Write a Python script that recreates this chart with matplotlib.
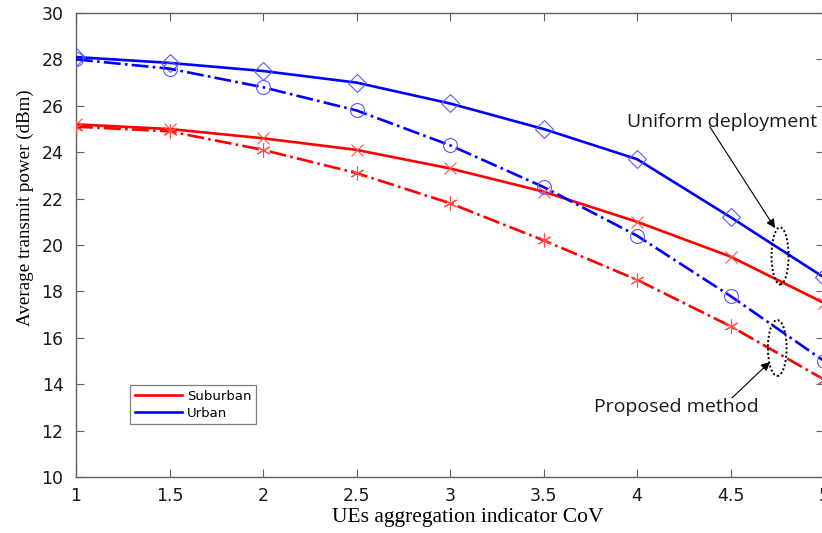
import matplotlib
matplotlib.use('Agg')
from matplotlib import pyplot as plt
from matplotlib.patches import Ellipse

cov = [1, 1.5, 2, 2.5, 3, 3.5, 4, 4.5, 5]

urban_uniform = [28.1, 27.85, 27.5, 27.0, 26.1, 25.0, 23.7, 21.2, 18.6]
urban_proposed = [28.0, 27.6, 26.8, 25.8, 24.3, 22.5, 20.4, 17.8, 15.0]
suburban_uniform = [25.2, 25.0, 24.6, 24.1, 23.3, 22.3, 21.0, 19.5, 17.5]
suburban_proposed = [25.1, 24.9, 24.1, 23.1, 21.8, 20.2, 18.5, 16.5, 14.2]

xticks = [1, 1.5, 2, 2.5, 3, 3.5, 4, 4.5, 5]
xtick_labels = ['1', '1.5', '2', '2.5', '3', '3.5', '4', '4.5', '5']
yticks = [10, 12, 14, 16, 18, 20, 22, 24, 26, 28, 30]

RED = '#ff0000'
BLUE = '#0000ff'
RED_M = (1.0, 0.3, 0.3)
BLUE_M = (0.35, 0.35, 1.0)


def main():
	fig = plt.figure(figsize=(8.22, 5.33), dpi=100)
	W, H = 822.0, 533.0
	ax = fig.add_axes([76 / W, (H - 477) / H, (824 - 76) / W, (477 - 13) / H])

	lw = 1.9
	ms = 10
	ax.plot(cov, suburban_uniform, '-', color=RED, lw=lw, marker='x', ms=ms - 2,
			mec=RED_M, mew=0.8, label='Suburban', zorder=3)
	ax.plot(cov, suburban_proposed, '-.', color=RED, lw=lw, marker=(6, 2, 0), ms=ms,
			mec=RED_M, mew=0.8, zorder=3)
	ax.plot(cov, urban_uniform, '-', color=BLUE, lw=lw, marker='D', ms=ms - 1,
			mfc='none', mec=BLUE_M, mew=0.8, label='Urban', zorder=3)
	ax.plot(cov, urban_proposed, '-.', color=BLUE, lw=lw, marker='o', ms=ms,
			mfc='none', mec=BLUE_M, mew=0.8, zorder=3)

	ax.set_xlim(1, 5)
	ax.set_ylim(10, 30)
	ax.set_xticks(xticks)
	ax.set_xticklabels(xtick_labels)
	ax.set_yticks(yticks)

	for sp in ax.spines.values():
		sp.set_color('#606060')
		sp.set_linewidth(1.0)
	ax.tick_params(direction='in', top=True, right=True, length=6, width=0.8,
				   color='#606060', labelsize=12.5, labelcolor='#1a1a1a')
	ax.tick_params(axis='x', pad=7)
	ax.tick_params(axis='y', pad=9)
	for lab in ax.get_xticklabels() + ax.get_yticklabels():
		lab.set_family('DejaVu Sans')

	ax.set_xlabel('UEs aggregation indicator CoV', family='Liberation Serif',
				  fontsize=15.5)
	ax.set_ylabel('Average transmit power (dBm)', family='Liberation Serif',
				  fontsize=13.7)
	ax.xaxis.set_label_coords((468 - 76) / 748, -(508 - 477) / 464)
	ax.yaxis.set_label_coords((34 - 76) / 748, (477 - 208) / 464)

	# dotted ellipses marking the two groups of curves
	ax.add_patch(Ellipse((4.765, 19.53), 0.091, 2.46, fill=False, ls=(0, (1, 1.2)),
						 lw=1.4, ec='black', zorder=4))
	ax.add_patch(Ellipse((4.75, 15.56), 0.10, 2.41, fill=False, ls=(0, (1, 1.2)),
						 lw=1.4, ec='black', zorder=4))

	arrow = dict(arrowstyle='-|>', color='black', lw=0.8, mutation_scale=13,
				 shrinkA=0, shrinkB=0)
	ax.annotate('', xy=(4.738, 20.73), xytext=(4.39, 25.09), arrowprops=arrow)
	ax.annotate('', xy=(4.711, 14.96), xytext=(4.508, 13.41), arrowprops=arrow)
	ax.text(4.455, 25.3, 'Uniform deployment', family='Open Sans', fontsize=14,
			ha='center', va='center', color='#1a1a1a', zorder=5)
	ax.text(4.209, 13.02, 'Proposed method', family='Open Sans', fontsize=14,
			ha='center', va='center', color='#1a1a1a', zorder=5)

	leg = ax.legend(loc='upper left', bbox_to_anchor=((130 - 76) / 748, (477 - 385) / 464),
					prop={'family': 'DejaVu Sans', 'size': 9.5}, frameon=True,
					fancybox=False, edgecolor='#606060', handlelength=3.6,
					handletextpad=0.35, borderpad=0.35, labelspacing=0.3,
					borderaxespad=0)
	leg.get_frame().set_linewidth(0.9)
	for h in leg.legend_handles:
		h.set_marker('None')

	fig.savefig('out.png', dpi=100)


if __name__ == '__main__':
	main()
